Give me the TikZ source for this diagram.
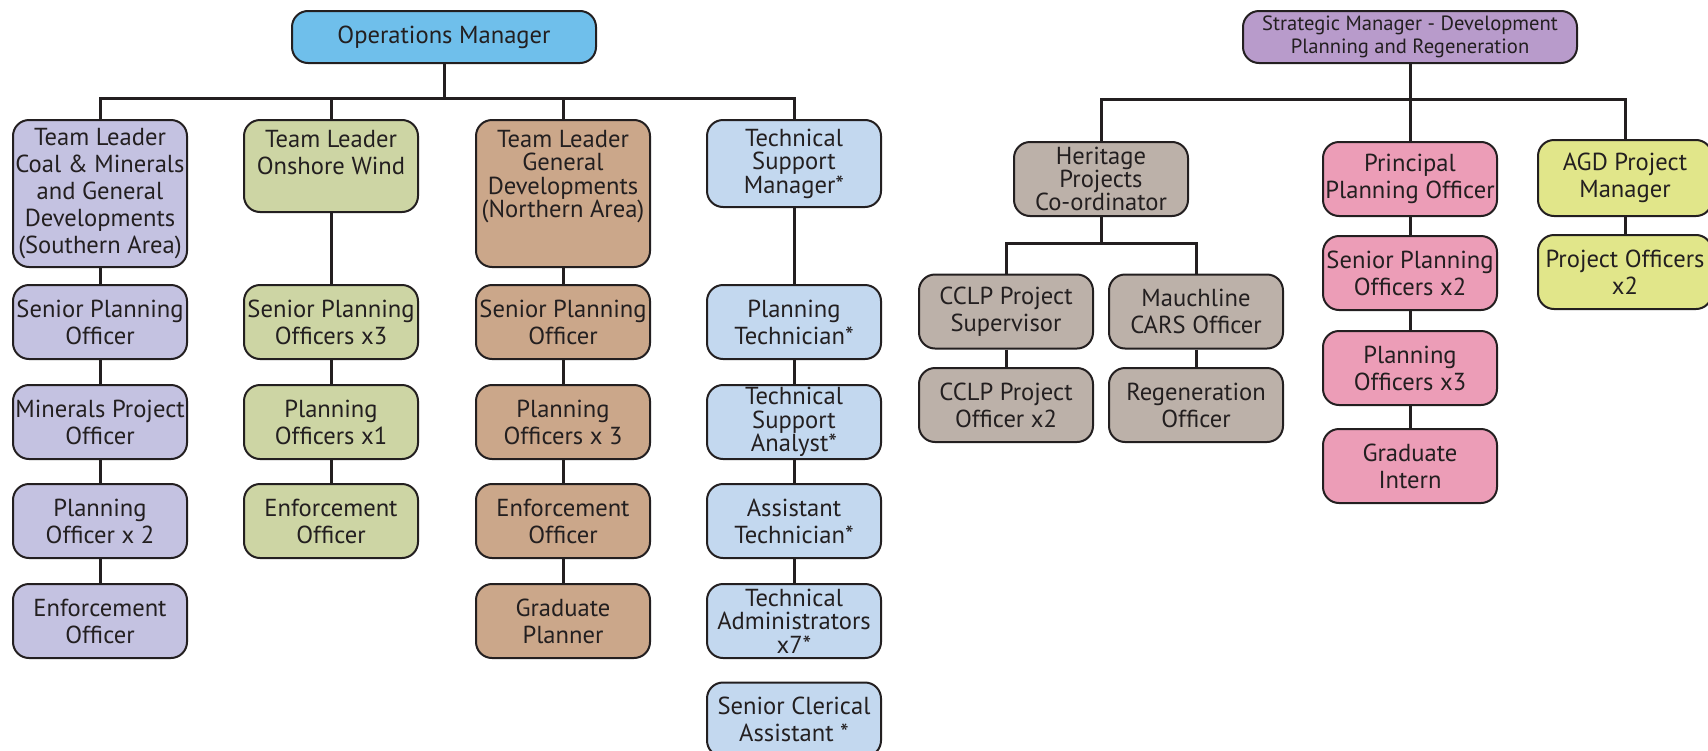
\documentclass[tikz,border=0pt]{standalone}
\usepackage{fontspec}
\setmainfont{PT Sans}
\definecolor{inkline}{HTML}{231F20}
\definecolor{opsblue}{HTML}{6FBFEB}
\definecolor{southlilac}{HTML}{C4C2E1}
\definecolor{windgreen}{HTML}{CDD5A4}
\definecolor{northtan}{HTML}{CBA78A}
\definecolor{techblue}{HTML}{C3D8EF}
\definecolor{stratmauve}{HTML}{B89BCB}
\definecolor{heritgrey}{HTML}{BCB1A9}
\definecolor{planpink}{HTML}{EC9DB7}
\definecolor{agdyellow}{HTML}{E1E68A}
\newcommand{\topcell}[3]{\parbox[c][#1][t]{86pt}{\centering\fontsize{12.3}{#2}\selectfont\vspace*{5pt}#3}}
\tikzset{
  post/.style={draw=inkline, line width=1pt, rounded corners=8pt, align=center,
    minimum width=87pt, minimum height=37pt, inner sep=1pt,
    font=\fontsize{12.3}{13.5}\selectfont, text=inkline},
  tight/.style={font=\fontsize{12.3}{11.7}\selectfont},
  link/.style={draw=inkline, line width=1.5pt},
}
\begin{document}
\begin{tikzpicture}[x=0.5pt, y=-0.5pt]
  \useasboundingbox (0,0) rectangle (1708,750);

  % operations side
  \node[post, fill=opsblue, minimum width=152pt, minimum height=26pt] (ops) at (444,37) {Operations Manager};
  \coordinate (opsbus) at (444,98);

  \node[post, fill=southlilac, minimum height=73.5pt] (south) at (100,193.5) {Team Leader\\Coal \& Minerals\\and General\\Developments\\(Southern Area)};
  \node[post, fill=southlilac] (southspo) at (100,322) {Senior Planning\\Officer};
  \node[post, fill=southlilac] (southmpo) at (100,422) {Minerals Project\\Officer};
  \node[post, fill=southlilac] (southpo) at (100,521) {Planning\\Officer x 2};
  \node[post, fill=southlilac] (southeo) at (100,621) {Enforcement\\Officer};

  \node[post, fill=windgreen, inner sep=0pt] (wind) at (331,166) {\topcell{46pt}{13.5pt}{Team Leader\\Onshore Wind}};
  \node[post, fill=windgreen] (windspo) at (331,322) {Senior Planning\\Officers x3};
  \node[post, fill=windgreen] (windpo) at (331,422) {Planning\\Officers x1};
  \node[post, fill=windgreen] (windeo) at (331,521) {Enforcement\\Officer};

  \node[post, fill=northtan, inner sep=0pt] (north) at (563,193.5) {\topcell{73.5pt}{11.7pt}{Team Leader\\General\\Developments\\(Northern Area)}};
  \node[post, fill=northtan] (northspo) at (563,322) {Senior Planning\\Officer};
  \node[post, fill=northtan] (northpo) at (563,422) {Planning\\Officers x 3};
  \node[post, fill=northtan] (northeo) at (563,521) {Enforcement\\Officer};
  \node[post, fill=northtan] (northgp) at (563,621) {Graduate\\Planner};

  \node[post, tight, fill=techblue, minimum height=43.5pt] (tech) at (794,163.5) {Technical\\Support\\Manager*};
  \node[post, fill=techblue] (techpt) at (794,322) {Planning\\Technician*};
  \node[post, tight, fill=techblue] (techsa) at (794,422) {Technical\\Support\\Analyst*};
  \node[post, fill=techblue] (techat) at (794,521) {Assistant\\Technician*};
  \node[post, tight, fill=techblue] (techadm) at (794,621) {Technical\\Administrators\\x7*};
  \node[post, fill=techblue] (techsca) at (794,719.5) {Senior Clerical\\Assistant *};

  \draw[link] (ops) -- (opsbus);
  \foreach \col in {south,wind,north,tech}
    \draw[link] (opsbus) -| (\col.north);
  \draw[link] (south) -- (southspo) -- (southmpo) -- (southpo) -- (southeo);
  \draw[link] (wind) -- (windspo) -- (windpo) -- (windeo);
  \draw[link] (north) -- (northspo) -- (northpo) -- (northeo) -- (northgp);
  \draw[link] (tech) -- (techpt) -- (techsa) -- (techat) -- (techadm);

  % development planning side
  \node[post, fill=stratmauve, minimum width=167pt, minimum height=26pt, font=\fontsize{10.3}{11.4}\selectfont] (strat) at (1410,37) {Strategic Manager - Development\\Planning and Regeneration};
  \coordinate (stratbus) at (1410,99);

  \node[post, tight, fill=heritgrey] (herit) at (1101,179) {Heritage\\Projects\\Co-ordinator};
  \coordinate (heritbus) at (1101,243);
  \node[post, fill=heritgrey] (cclps) at (1006,311.5) {CCLP Project\\Supervisor};
  \node[post, fill=heritgrey] (cclpo) at (1006,405) {CCLP Project\\Officer x2};
  \node[post, fill=heritgrey] (mauch) at (1196,311.5) {Mauchline\\CARS Officer};
  \node[post, fill=heritgrey] (regen) at (1196,405) {Regeneration\\Officer};

  \node[post, fill=planpink] (ppo) at (1410,179) {Principal\\Planning Officer};
  \node[post, fill=planpink] (pspo) at (1410,273) {Senior Planning\\Officers x2};
  \node[post, fill=planpink] (ppos) at (1410,368) {Planning\\Officers x3};
  \node[post, fill=planpink] (pgrad) at (1410,466) {Graduate\\Intern};

  \node[post, fill=agdyellow, minimum height=38pt] (agd) at (1625,178) {AGD Project\\Manager};
  \node[post, fill=agdyellow] (agdpo) at (1625,272) {Project Officers\\x2};

  \draw[link] (strat) -- (stratbus) -- (ppo);
  \draw[link] (stratbus) -| (herit.north);
  \draw[link] (stratbus) -| (agd.north);
  \draw[link] (herit) -- (heritbus);
  \draw[link] (heritbus) -| (cclps.north);
  \draw[link] (heritbus) -| (mauch.north);
  \draw[link] (cclps) -- (cclpo);
  \draw[link] (mauch) -- (regen);
  \draw[link] (ppo) -- (pspo) -- (ppos) -- (pgrad);
  \draw[link] (agd) -- (agdpo);
\end{tikzpicture}
\end{document}
